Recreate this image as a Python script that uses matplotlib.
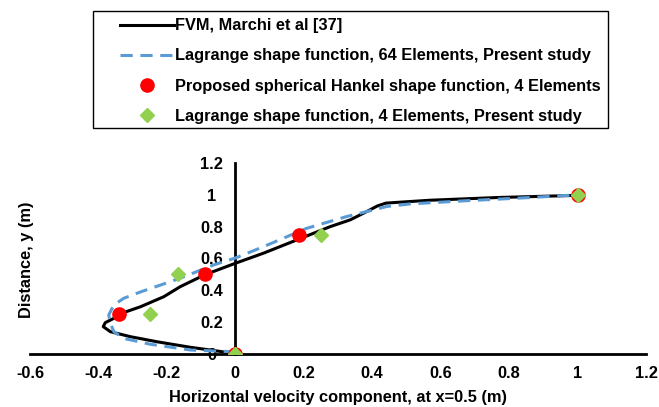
import numpy as np
import matplotlib
matplotlib.use("Agg")
import matplotlib.pyplot as plt
from matplotlib.lines import Line2D
from matplotlib.patches import Rectangle

plt.rcParams['font.family'] = ['Liberation Sans', 'DejaVu Sans']
plt.rcParams['font.weight'] = 'bold'
FS = 11.8

# FVM reference profile (Marchi et al)
fvm_u = [0.0, -0.005, -0.073, -0.131, -0.229, -0.307, -0.365, -0.386, -0.38, -0.355,
         -0.34, -0.277, -0.209, -0.161, -0.09, 0.0, 0.083, 0.18, 0.277, 0.336,
         0.384, 0.415, 0.440, 0.511, 0.569, 0.764, 0.988, 1.0]
fvm_y = [0.0, 0.004, 0.025, 0.042, 0.077, 0.109, 0.14, 0.172, 0.197, 0.224,
         0.25, 0.297, 0.36, 0.423, 0.497, 0.57, 0.634, 0.717, 0.80, 0.843,
         0.895, 0.930, 0.948, 0.958, 0.966, 0.983, 0.996, 1.0]

# Lagrange, 64 elements
lag64_u = [0.0, -0.015, -0.131, -0.248, -0.326, -0.355, -0.365, -0.37, -0.355, -0.326,
           -0.277, -0.161, -0.063, 0.0, 0.083, 0.209, 0.326, 0.384, 0.443, 0.511,
           0.667, 0.861, 1.0]
lag64_y = [0.0, 0.015, 0.025, 0.061, 0.098, 0.14, 0.193, 0.245, 0.308, 0.35,
           0.39, 0.476, 0.56, 0.603, 0.675, 0.79, 0.864, 0.895, 0.927, 0.943,
           0.962, 0.983, 1.0]

# spherical Hankel, 4 elements
hankel_u = [0.0, -0.34, -0.09, 0.187, 1.0]
hankel_y = [0.0, 0.25, 0.5, 0.75, 1.0]

# Lagrange, 4 elements
lag4_u = [0.0, -0.25, -0.168, 0.251, 1.0]
lag4_y = [0.0, 0.25, 0.5, 0.75, 1.0]

W, H = 659, 407
fig = plt.figure(figsize=(W/100, H/100), dpi=100)
ax = fig.add_axes([30/W, 1-354/H, 616/W, 191/H])

ax.plot(fvm_u, fvm_y, color="black", lw=2.2, zorder=3, solid_joinstyle='round')
ax.plot(lag64_u, lag64_y, color="#5B9BD5", lw=2.2, dashes=(4, 2.5), zorder=4)
ax.plot(hankel_u, hankel_y, "o", ls="none", color="#FF0000", ms=9.5, zorder=5)
ax.plot(lag4_u, lag4_y, "D", ls="none", color="#92D050", ms=7, zorder=6)

ax.set_xlim(-0.6, 1.2)
ax.set_ylim(0, 1.2)
ax.set_xticks(np.arange(-0.6, 1.21, 0.2))
ax.set_xticklabels(["-0.6", "-0.4", "-0.2", "0", "0.2", "0.4", "0.6", "0.8", "1", "1.2"])
ax.set_yticks(np.arange(0, 1.21, 0.2))
ax.set_yticklabels(["0", "0.2", "0.4", "0.6", "0.8", "1", "1.2"])

ax.spines['left'].set_position(('data', 0))
ax.spines['top'].set_visible(False)
ax.spines['right'].set_visible(False)
for s in ('left', 'bottom'):
    ax.spines[s].set_linewidth(2.0)
ax.tick_params(length=0, labelsize=FS)
ax.tick_params(axis='x', pad=9)
ax.tick_params(axis='y', pad=17)
for lab in ax.get_yticklabels():
    lab.set_horizontalalignment('center')

ax.set_xlabel("Horizontal velocity component, at x=0.5 (m)", fontsize=FS,
              fontweight='bold', labelpad=6)
fig.text(26/W, 1-260/H, "Distance, y (m)", rotation=90, ha='center', va='center',
         fontsize=FS, fontweight='bold')

# legend: frame drawn separately so the entries can sit inset
fig.patches.append(Rectangle((93/W, 1-128/H), 515/W, 117/H, transform=fig.transFigure,
                             fill=False, edgecolor="black", lw=1.0))
handles = [
    Line2D([], [], color="black", lw=2.2),
    Line2D([], [], color="#5B9BD5", lw=2.2, dashes=(4, 2.5)),
    Line2D([], [], marker="o", ls="none", color="#FF0000", ms=9.5),
    Line2D([], [], marker="D", ls="none", color="#92D050", ms=7),
]
labels = ["FVM, Marchi et al [37]",
          "Lagrange shape function, 64 Elements, Present study",
          "Proposed spherical Hankel shape function, 4 Elements",
          "Lagrange shape function, 4 Elements, Present study"]
leg = fig.legend(handles, labels, loc='center left', bbox_to_anchor=(120/W, 1-71/H),
                 borderaxespad=0, borderpad=0, frameon=False,
                 handlelength=3.3, handletextpad=0.08, labelspacing=0.92,
                 prop={'size': FS, 'weight': 'bold'})

fig.savefig("out.png", dpi=100)
